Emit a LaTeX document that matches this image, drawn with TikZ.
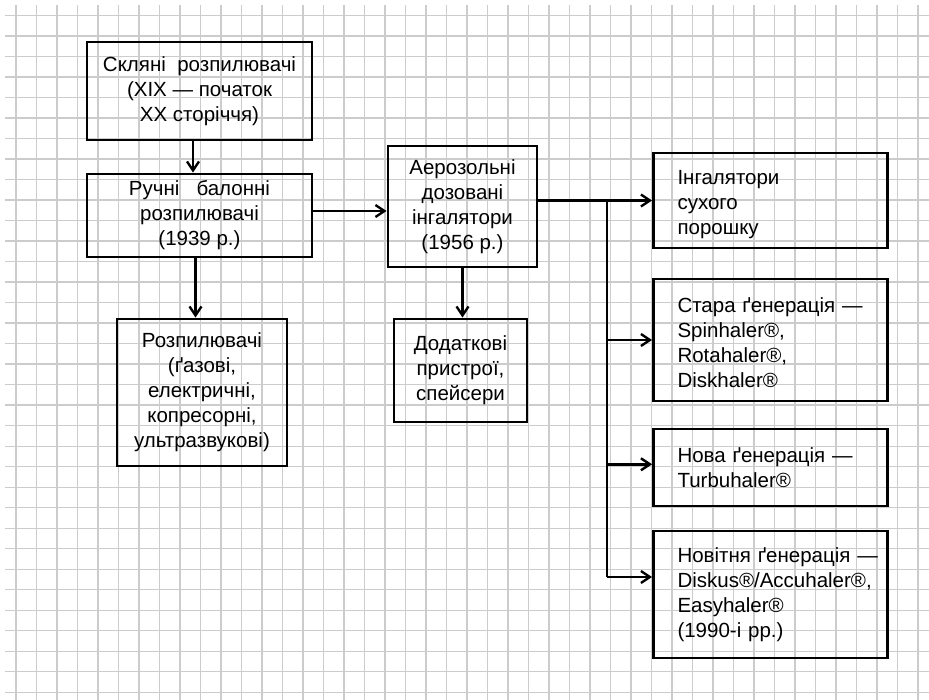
\documentclass[tikz,border=0pt]{standalone}
\usepackage{fontspec}
\setmainfont{Liberation Sans}
\usetikzlibrary{arrows.meta}
\begin{document}
\begin{tikzpicture}[x=1pt,y=-1pt,
  gridline/.style={draw=black!20,line width=1.4pt},
  box/.style={draw=black,line width=2.8pt,fill=none,inner sep=0pt,align=center,
    font=\fontsize{20.5}{25}\selectfont},
  lbox/.style={draw=black,line width=2.8pt,inner xsep=24pt,inner ysep=0pt,align=left,
    text width=186pt,font=\fontsize{20.5}{25}\selectfont},
  arr/.style={line width=2.4pt,-{Straight Barb[length=9pt,width=12pt,line width=2.4pt]}},
  conn/.style={line width=2.4pt}]
\useasboundingbox (0,0) rectangle (929,700);
\fill[white] (0,0) rectangle (929,700);
% grid
\foreach \i in {0,...,44} \draw[gridline] ({16+20.5*\i},5) -- ({16+20.5*\i},700);
\foreach \j in {0,...,33} \draw[gridline] (5,{15.7+20.5*\j}) -- (929,{15.7+20.5*\j});
% boxes
\node[box,minimum width=225pt,minimum height=98pt] (b1) at (199.5,91)
  {Скляні\ \ розпилювачі\\(XIX — початок\\XX сторіччя)};
\node[box,minimum width=225pt,minimum height=83pt] (b2) at (199.5,215.5)
  {Ручні\ \ \ балонні\\розпилювачі\\(1939 р.)};
\node[box,minimum width=170pt,minimum height=147pt] (b3) at (202,392.5)
  {Розпилювачі\\(ґазові,\\електричні,\\копресорні,\\ультразвукові)};
\node[box,minimum width=149pt,minimum height=121pt] (b4) at (462.5,206.5)
  {Аерозольні\\дозовані\\інгалятори\\(1956 р.)};
\node[box,minimum width=133pt,minimum height=103pt] (b5) at (460.5,370.5)
  {Додаткові\\пристрої,\\спейсери};
\node[lbox,minimum height=95pt] (b6) at (770.5,200.5)
  {\rule{0pt}{23pt}Інгалятори\\сухого\\порошку};
\node[lbox,minimum height=122pt] (b7) at (770.5,340)
  {\rule{0pt}{21pt}Стара ґенерація —\\Spinhaler®,\\Rotahaler®,\\Diskhaler®};
\node[lbox,minimum height=77pt] (b8) at (770.5,467.5)
  {Нова ґенерація —\\Turbuhaler®};
\node[lbox,minimum height=127pt] (b9) at (770.5,594.5)
  {\mbox{Новітня ґенерація —}\\\mbox{Diskus®/Accuhaler®,}\\Easyhaler®\\(1990-і рр.)};
% connectors
\draw[arr] ([xshift=-6.5pt]b1.south) -- ([xshift=-6.5pt]b1.south |- b2.north);
\draw[arr] ([xshift=-4pt]b2.south) -- ([xshift=-4pt]b2.south |- b3.north);
\draw[arr] ([yshift=4.5pt]b2.east) -- ([yshift=4.5pt]b2.east -| b4.west);
\draw[arr] (b4.south) -- (b4.south |- b5.north);
\coordinate (br) at (606.7,200.5);
\coordinate (k8) at (606.7,464.3);
\coordinate (k9) at (606.7,577);
\draw[arr] (b4.east |- b6.west) -- (b6.west);
\draw[conn] (br) -- (k9);
\draw[arr] (br |- b7.west) -- (b7.west);
\draw[arr] (k8) -- (k8 -| b8.west);
\draw[arr] (k9) -- (k9 -| b9.west);
\end{tikzpicture}
\end{document}
